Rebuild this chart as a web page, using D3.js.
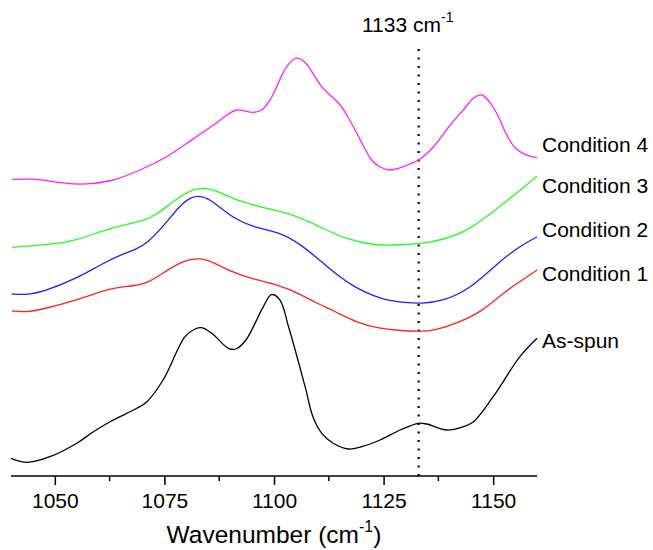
<!DOCTYPE html>
<html><head><meta charset="utf-8">
<script src="https://cdn.jsdelivr.net/npm/d3@7"></script>
<style>body{margin:0;background:#fff}svg{display:block}text{font-family:"Liberation Sans",Arial,sans-serif;fill:#000}</style>
</head><body>
<svg id="c" width="653" height="550"></svg>
<script>
// wavenumber (cm-1), absorbance (arbitrary, offset for display)
const asSpun=[[1040,17.7],[1043.6,13.7],[1048.9,19.3],[1055,32.7],[1058.8,44.3],[1062.6,54.3],[1068.7,67.7],[1071,74.3],[1074.7,96],[1079.7,139.3],[1082,147],[1083.5,148.3],[1085.8,142.7],[1089.6,127.7],[1091.3,127],[1093.6,136],[1097.6,169.7],[1099.4,181.4],[1101.3,176.4],[1103.4,148],[1107.1,89.3],[1108.9,59],[1110.9,42.7],[1113.5,32.7],[1117,27],[1120,29.3],[1124.2,36],[1128.8,46],[1132.9,52.7],[1134.8,52],[1139.4,46],[1142.4,48.3],[1145.5,54.3],[1150,79.3],[1156.1,119.3],[1160,137.7]];
const cond1=[[1040.2,165],[1043.2,163.7],[1047.4,166.7],[1055,176],[1060.3,184.3],[1064.1,188.7],[1067.9,190],[1071,192.7],[1074.7,202.7],[1078.6,214.3],[1083.1,218.7],[1086.2,213.4],[1090.8,203.3],[1094.6,197.6],[1100.8,191.5],[1106.2,181.4],[1109.1,174.1],[1113.9,164.6],[1119.2,152.8],[1123.8,147.8],[1129.2,145.2],[1133.2,144.5],[1136.7,145.5],[1141.3,152.2],[1147,162.7],[1153.1,186],[1156.7,196],[1160,206]];
const cond2=[[1040.2,182],[1043.2,181],[1047.4,184.3],[1055,197.7],[1060.3,211],[1064.9,221],[1068.7,227],[1071,232.7],[1074.7,249.3],[1078.6,271],[1081.2,279.3],[1083.5,280.3],[1086.2,274.5],[1090.8,257.2],[1095.4,248.8],[1100.8,244.4],[1106.2,232],[1112.3,208.4],[1117.7,189.8],[1124.6,176.4],[1129.2,173.7],[1133.8,172.3],[1138.4,174.7],[1144.6,186.5],[1150.7,211.7],[1156.1,230.2],[1160,239]];
const cond3=[[1040.2,228.7],[1045.1,230.3],[1051.2,232.7],[1055,236],[1060.3,244.3],[1065.6,251],[1070.2,255],[1073.2,261],[1077.8,277.7],[1081.6,286.7],[1083.9,288.7],[1087.7,284.3],[1090.8,276.4],[1098.5,267.3],[1103.9,262.2],[1110,250.4],[1116.2,237],[1123.1,230.2],[1129.2,231.2],[1133.8,232.6],[1138.4,236],[1144.6,245.4],[1152.3,272.3],[1157.6,290.8],[1160,300]];
const cond4=[[1040.2,296.7],[1045.9,296.7],[1049.7,294.3],[1055,292],[1058.8,292.7],[1063.3,296],[1069.4,306],[1075.5,319.3],[1080.1,332.7],[1086.2,351],[1089.6,362],[1091.5,366],[1095.3,363.7],[1097.2,366],[1099.1,376],[1102.9,409.3],[1105,417.7],[1106.9,414.3],[1110.9,389.3],[1115.1,371],[1116.6,361],[1118.9,342.7],[1122.3,316],[1124.2,309],[1126.5,306],[1129.5,309.3],[1133.3,317],[1136.3,328.7],[1140.2,351],[1143.2,366],[1145.5,377.7],[1147.4,381],[1149.3,373.3],[1151.2,359.3],[1153.1,341],[1155,328.3],[1157.3,321.7],[1160,318.3]];
const seriesNames=["As-spun","Condition 1","Condition 2","Condition 3","Condition 4"];
const seriesColors=["#000000","#ff2020","#2020ff","#20ff20","#ff20ff"];
const labelValues=[128,195,239,283,324];
const majorTicks=[1050,1075,1100,1125,1150];
const minorTicks=[1062.5,1087.5,1112.5,1137.5];
const markerWn=1133;

const svg=d3.select("#c");
const x=d3.scaleLinear().domain([1040,1160]).range([11,537]);
const y=d3.scaleLinear().domain([0,450]).range([476,26]);
const data=[asSpun,cond1,cond2,cond3,cond4];
const curves=[d3.curveCatmullRom.alpha(0.5),d3.curveBasis,d3.curveBasis,d3.curveBasis,d3.curveCatmullRom.alpha(0.5)];

// marker line
svg.append("line").attr("x1",x(markerWn)).attr("x2",x(markerWn)).attr("y1",49).attr("y2",476)
  .attr("stroke","#000").attr("stroke-width",2.2).attr("stroke-dasharray","2,6.5");

data.forEach((d,i)=>{
  const line=d3.line().x(p=>x(p[0])).y(p=>y(p[1])).curve(curves[i]);
  svg.append("path").attr("d",line(d)).attr("fill","none").attr("stroke",seriesColors[i]).attr("stroke-width",1.3);
  svg.append("text").attr("x",542).attr("y",y(labelValues[i])).attr("font-size",21).text(seriesNames[i]);
});

// axis
const ax=svg.append("g").attr("transform","translate(0,476)");
ax.call(d3.axisBottom(x).tickValues(majorTicks).tickSize(9).tickPadding(8).tickFormat(d3.format("d")));
ax.select(".domain").attr("d",`M${x(1040)},0H${x(1160)}`).attr("stroke-width",1.5);
ax.selectAll(".tick line").attr("stroke-width",1.5);
ax.selectAll(".tick text").attr("font-size",21).attr("font-family","Liberation Sans, Arial, sans-serif").attr("fill","#000");
ax.selectAll(".minor").data(minorTicks).enter().append("line").attr("class","minor")
  .attr("x1",d=>x(d)).attr("x2",d=>x(d)).attr("y1",0).attr("y2",5).attr("stroke","#000").attr("stroke-width",1.5);

// axis title
const t=svg.append("text").attr("x",274).attr("y",543).attr("text-anchor","middle").attr("font-size",24.5);
t.append("tspan").text("Wavenumber (cm");
t.append("tspan").attr("font-size",16).attr("dy",-11).text("-1");
t.append("tspan").attr("dy",11).text(")");

// marker label
const m=svg.append("text").attr("x",362).attr("y",32).attr("font-size",21);
m.append("tspan").text("1133 cm");
m.append("tspan").attr("font-size",14).attr("dy",-10).text("-1");
</script>
</body></html>
